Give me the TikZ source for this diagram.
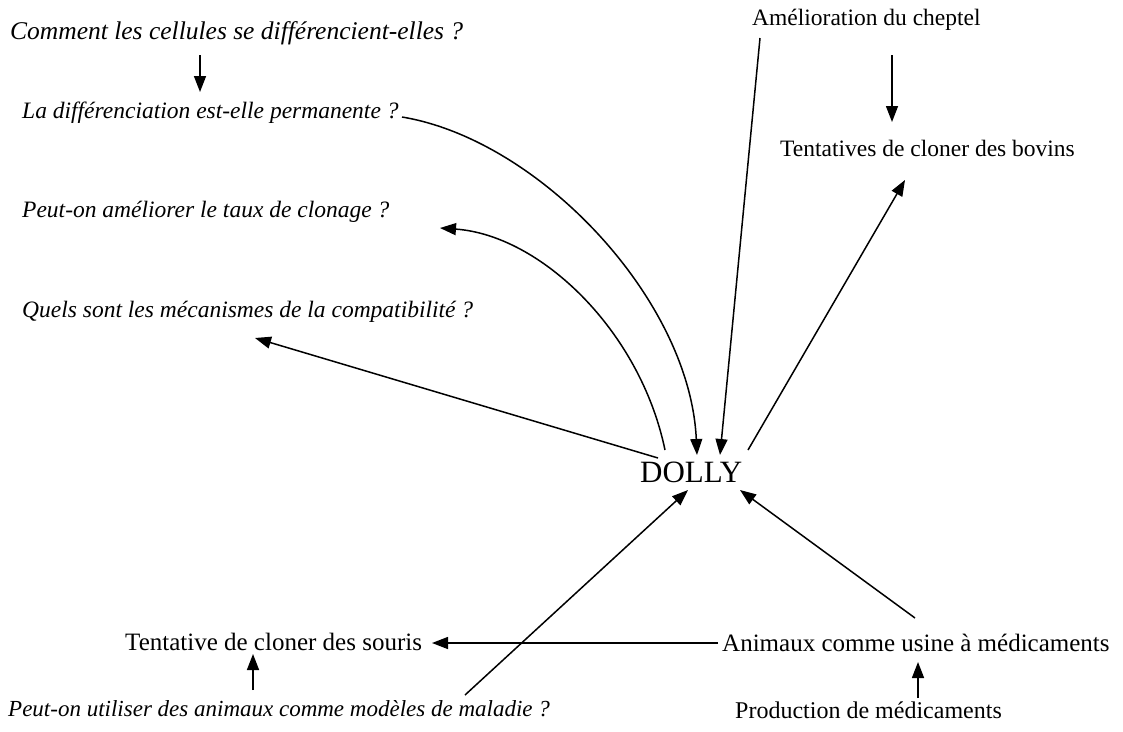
\documentclass[tikz,border=0pt]{standalone}
\usepackage{fontspec}
\setmainfont{Liberation Serif}
\usetikzlibrary{arrows.meta}
\begin{document}
\begin{tikzpicture}[x=1pt,y=-1pt,
  lbl/.style={inner sep=0pt, anchor=west, font=\fontsize{23.5}{28}\selectfont},
  ital/.style={inner sep=0pt, anchor=west, font=\fontsize{23.5}{28}\selectfont\itshape},
  big/.style={inner sep=0pt, anchor=west, font=\fontsize{31}{36}\selectfont},
  arr/.style={line width=1.5pt, -{Triangle[length=16pt,width=12pt]}},
  ln/.style={line width=1.5pt}]
\useasboundingbox (0,0) rectangle (1123,731);
\fill[white] (0,0) rectangle (1123,731);
% nodes
\node[ital, font=\fontsize{25.5}{30}\selectfont\itshape] (comment) at (10,33) {Comment les cellules se différencient-elles ?};
\node[ital] (diff) at (22,113) {La différenciation est-elle permanente ?};
\node[ital] (taux) at (22,212) {Peut-on améliorer le taux de clonage ?};
\node[ital] (compat) at (22,312) {Quels sont les mécanismes de la compatibilité ?};
\node[big] (dolly) at (640,472) {DOLLY};
\node[lbl] (cheptel) at (752,20) {Amélioration du cheptel};
\node[lbl] (bovins) at (780,148) {Tentatives de cloner des bovins};
\node[lbl, font=\fontsize{25}{30}\selectfont] (souris) at (125,642) {Tentative de cloner des souris};
\node[lbl, font=\fontsize{25}{30}\selectfont] (usine) at (722,643) {Animaux comme usine à médicaments};
\node[ital, font=\fontsize{23}{28}\selectfont\itshape] (maladie) at (8,709) {Peut-on utiliser des animaux comme modèles de maladie ?};
\node[lbl, font=\fontsize{24}{28}\selectfont] (prod) at (735,710) {Production de médicaments};
% connector end points
\coordinate (c1) at (200,55);   \coordinate (c2) at (200,92);
\coordinate (d1) at (402,117);  \coordinate (d2) at (697,455);
\coordinate (t1) at (665,450);  \coordinate (t2) at (440,228);
\coordinate (k1) at (658,458);  \coordinate (k2) at (255,338);
\coordinate (h1) at (760,38);   \coordinate (h2) at (720,455);
\coordinate (h3) at (892,55);   \coordinate (h4) at (892,122);
\coordinate (b1) at (748,450);  \coordinate (b2) at (905,180);
\coordinate (u1) at (718,643);  \coordinate (u2) at (432,643);
\coordinate (u3) at (915,618);  \coordinate (u4) at (740,490);
\coordinate (m1) at (465,695);  \coordinate (m2) at (688,490);
\coordinate (m3) at (253,690);  \coordinate (m4) at (253,654);
\coordinate (p1) at (918,698);  \coordinate (p2) at (918,662);
% connectors
\draw[arr] (c1) -- (c2);
\draw[arr] (d1) .. controls (540,140) and (690,300) .. (d2);
\draw[arr] (t1) .. controls (640,330) and (540,235) .. (t2);
\draw[arr] (k1) -- (k2);
\draw[arr] (h1) -- (h2);
\draw[arr] (h3) -- (h4);
\draw[arr] (b1) -- (b2);
\draw[arr] (u1) -- (u2);
\draw[arr] (u3) -- (u4);
\draw[arr] (m1) -- (m2);
\draw[arr] (m3) -- (m4);
\draw[arr] (p1) -- (p2);
\end{tikzpicture}
\end{document}
